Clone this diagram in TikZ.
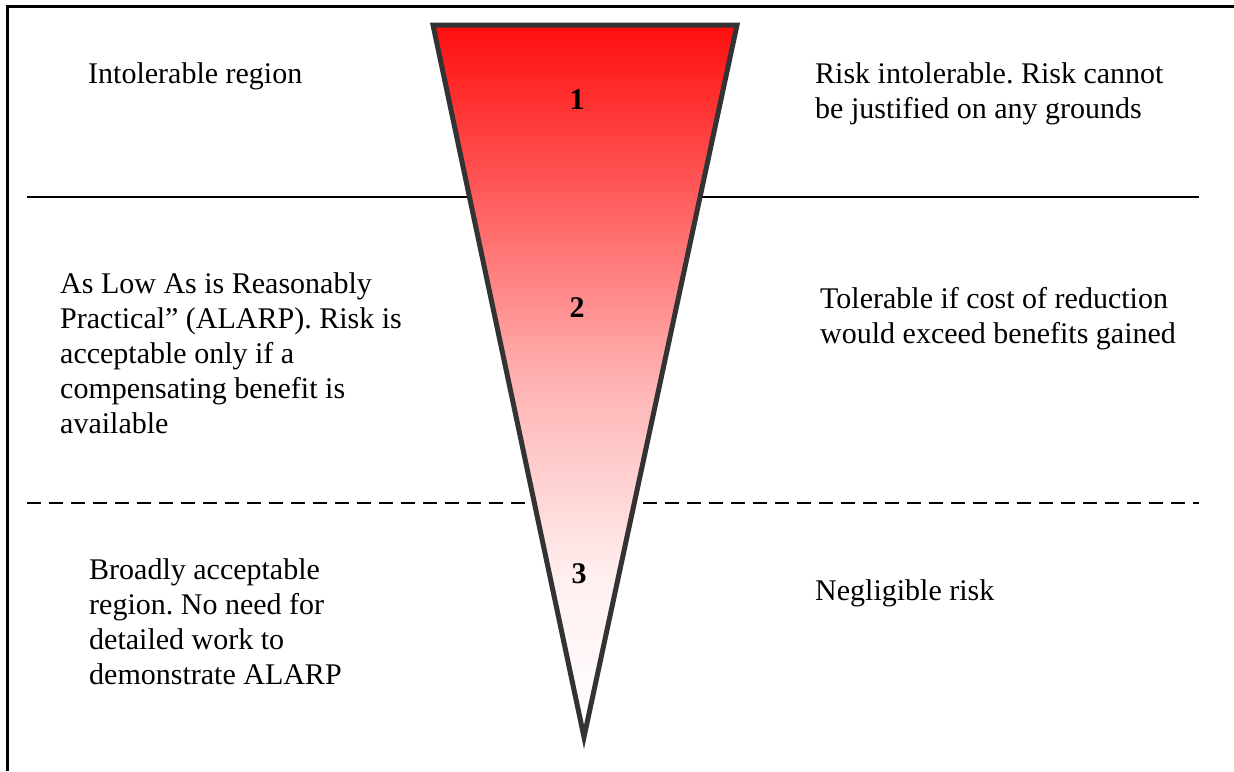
\documentclass[tikz,border=0pt]{standalone}
\usepackage{fontspec}
\setmainfont{Liberation Serif}
\frenchspacing

\definecolor{edgegray}{RGB}{51,51,51}

% red-to-white fade used inside the funnel (the central 25bp--75bp band spans the shape)
\pgfdeclareverticalshading{funnelfade}{100bp}{%
  rgb(0bp)=(1,1,1);
  rgb(25bp)=(1,1,1);
  rgb(36bp)=(1,0.94,0.94);
  rgb(50bp)=(1,0.70,0.70);
  rgb(63bp)=(1,0.36,0.36);
  rgb(75bp)=(1,0.055,0.055);
  rgb(100bp)=(1,0.055,0.055)}

\newcommand{\txt}[1]{\begin{tabular}[t]{@{}l@{}}#1\end{tabular}}

\tikzset{
  label text/.style={anchor=base west, inner sep=0pt, font=\fontsize{30}{35}\selectfont},
  zone number/.style={anchor=base, inner sep=0pt, font=\fontsize{30}{35}\selectfont\bfseries},
  zone rule/.style={line width=1.6pt, black},
  zone dashrule/.style={line width=2pt, black, dash pattern=on 14pt off 8pt},
  frame line/.style={line width=3pt, black}
}

\begin{document}
\begin{tikzpicture}[x=1pt,y=-1pt]
\useasboundingbox (0,0) rectangle (1234,771);

% outer frame (left and top edges)
\draw[frame line] (7.5,771) -- (7.5,6) -- (1234,6);

% region boundaries
\coordinate (solidL) at (27,197);
\coordinate (solidR) at (1199,197);
\coordinate (dashL) at (27,503);
\coordinate (dashR) at (1199,503);
\draw[zone rule] (solidL) -- (solidR);
\draw[zone dashrule] (dashL) -- (dashR);

% the risk funnel
\coordinate (tl) at (433,25);
\coordinate (tr) at (737,25);
\coordinate (apex) at (584,737);
\path[shading=funnelfade] (tl) -- (tr) -- (apex) -- cycle;
\draw[edgegray, line width=5pt, line join=miter] (tl) -- (tr) -- (apex) -- cycle;

% zone numbers
\node[zone number] (n1) at (577,109) {1};
\node[zone number] (n2) at (577,317) {2};
\node[zone number] (n3) at (579,583) {3};

% left descriptions
\node[label text] (l1) at (88,83) {\txt{Intolerable region}};
\node[label text] (l2) at (60,293) {\txt{As Low As is Reasonably\\Practical” (ALARP). Risk is\\acceptable only if a\\compensating benefit is\\available}};
\node[label text] (l3) at (89,579) {\txt{Broadly acceptable\\region. No need for\\detailed work to\\demonstrate ALARP}};

% right descriptions
\node[label text] (r1) at (815,83) {\txt{Risk intolerable. Risk cannot\\be justified on any grounds}};
\node[label text] (r2) at (820,308) {\txt{Tolerable if cost of reduction\\would exceed benefits gained}};
\node[label text] (r3) at (815,600) {\txt{Negligible risk}};
\end{tikzpicture}
\end{document}
